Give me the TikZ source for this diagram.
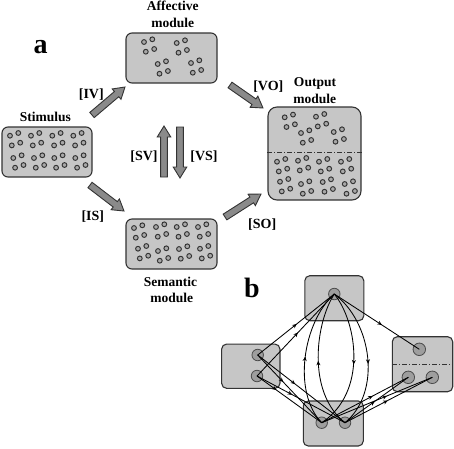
\documentclass[tikz,border=0pt]{standalone}
\usepackage{fontspec}
\setmainfont{Liberation Serif}
\usetikzlibrary{calc,decorations.markings,arrows.meta}
\definecolor{boxgray}{HTML}{C6C6C6}
\definecolor{dotgray}{HTML}{A8A8A8}
\definecolor{nodegray}{HTML}{9E9E9E}
\definecolor{arrgray}{HTML}{8A8A8A}
\newcommand\dotgrp[2]{\foreach \dx/\dy in {0/0, 8.3/-2.7, 1.8/9.7, 10.2/7}{\draw[dot] (#1+\dx,#2+\dy) circle (2.4pt);}}
\newcommand\blockarrow[2]{\path[blockarr] let \p1=($(#2)-(#1)$), \n1={atan2(\y1,\x1)}, \n2={veclen(\x1,\y1)} in [shift={(#1)}, rotate=\n1] (0,3.4) -- (\n2-11,3.4) -- (\n2-11,6.8) -- (\n2,0) -- (\n2-11,-6.8) -- (\n2-11,-3.4) -- (0,-3.4) -- cycle;}
\begin{document}
\begin{tikzpicture}[x=1pt,y=-1pt,
  modbox/.style={draw=black!80, fill=boxgray, line width=1.1pt, rounded corners=6pt, inner sep=0pt},
  dot/.style={draw=black!80, fill=dotgray, line width=0.95pt},
  bnode/.style={circle, draw=black!70, fill=nodegray, line width=0.8pt, minimum size=11.5pt, inner sep=0pt},
  blockarr/.style={draw=black!80, fill=arrgray, line width=0.9pt, line join=miter},
  lbl/.style={font=\fontsize{13.5}{16}\selectfont\bfseries, anchor=base, inner sep=0pt},
  blbl/.style={font=\fontsize{14}{16}\selectfont\bfseries, anchor=base, inner sep=0pt},
  big/.style={font=\fontsize{28}{30}\selectfont\bfseries, anchor=base, inner sep=0pt},
  link/.style={line width=0.85pt, draw=black},
  midarr/.style={postaction={decorate}, decoration={markings, mark=at position #1 with {\arrow{Stealth[length=4.5pt,width=4pt]}}}},
  midarr/.default=0.5,
  sepline/.style={draw=black!80, line width=0.8pt, dash pattern=on 5pt off 2pt on 1pt off 2pt},
]
\useasboundingbox (0,0) rectangle (454,448);

% ---------- part a ----------
\node[big] (la) at (40.5,53.3) {a};

\node[modbox, minimum width=90pt, minimum height=50pt] (stim) at (47,152) {};
\node[modbox, minimum width=91pt, minimum height=50pt] (aff) at (171.5,58) {};
\node[modbox, minimum width=93pt, minimum height=93pt, rounded corners=9pt] (out) at (314.5,153.5) {};
\node[modbox, minimum width=91pt, minimum height=50pt] (sem) at (171.5,244) {};
\draw[sepline] (out.west |- 0,152.3) -- (out.east |- 0,152.3);

\node[lbl] (taff1) at (172.8,10.5) {Affective};
\node[lbl] (taff2) at (172.8,27) {module};
\node[lbl] (tstim) at (45.3,121.5) {Stimulus};
\node[lbl] (tout1) at (315,86) {Output};
\node[lbl] (tout2) at (314.7,103.3) {module};
\node[lbl] (tsem1) at (170.5,286) {Semantic};
\node[lbl] (tsem2) at (171.7,302) {module};

% dots
\foreach \x/\y in {10/135.7, 31/135.7, 52.3/135.7, 73.3/135.7, 13.3/158, 34/158, 54.3/158, 75.3/158}{\dotgrp{\x}{\y}}
\foreach \x/\y in {144/42, 176.7/43, 157.7/64, 191/63}{\dotgrp{\x}{\y}}
\foreach \x/\y in {134/228, 156/227, 176.7/227, 198/227, 138/248.7, 158/251, 179/249, 200/248.7}{\dotgrp{\x}{\y}}
\foreach \x/\y in {284.7/117.3, 316/116.7, 301/133, 333.7/132, 277/161.7, 298/160.7, 319/161.7, 341/161.7, 280/181.7, 301/184, 322.7/182, 344.7/184}{\dotgrp{\x}{\y}}

% block arrows
\coordinate (iv1) at (92,115);  \coordinate (iv2) at (125,87);
\coordinate (vo1) at (230,85);  \coordinate (vo2) at (263,108);
\coordinate (is1) at (90,185);  \coordinate (is2) at (124,211);
\coordinate (so1) at (225,217); \coordinate (so2) at (261,194);
\coordinate (sv1) at (164,177); \coordinate (sv2) at (164,126);
\coordinate (vs1) at (180,127); \coordinate (vs2) at (180,178);
\blockarrow{iv1}{iv2}
\blockarrow{vo1}{vo2}
\blockarrow{is1}{is2}
\blockarrow{so1}{so2}
\blockarrow{sv1}{sv2}
\blockarrow{vs1}{vs2}

\node[blbl] (liv) at (91.3,98.5) {[IV]};
\node[blbl] (lvo) at (268.3,90) {[VO]};
\node[blbl] (lsv) at (144,160.5) {[SV]};
\node[blbl] (lvs) at (204,160.5) {[VS]};
\node[blbl] (lis) at (92.8,220) {[IS]};
\node[blbl] (lso) at (262.2,228.3) {[SO]};

% ---------- part b ----------
\node[big] (lb) at (252,297.3) {b};

\node[modbox, rounded corners=5pt, minimum width=59pt, minimum height=45pt] (btop) at (334.3,298.2) {};
\node[modbox, rounded corners=5pt, minimum width=58.3pt, minimum height=44.3pt] (bleft) at (250.8,366.2) {};
\node[modbox, rounded corners=5pt, minimum width=60.4pt, minimum height=55pt] (bright) at (422.5,364.2) {};
\node[modbox, rounded corners=5pt, minimum width=60pt, minimum height=45pt] (bbot) at (333.3,423.5) {};
\draw[sepline] (bright.west |- 0,364.3) -- (bright.east |- 0,364.3);

\node[bnode] (V) at (334.3,294) {};
\node[bnode] (L1) at (257.7,355) {};
\node[bnode] (L2) at (257,376) {};
\node[bnode, minimum size=12.5pt] (R1) at (419.3,349.3) {};
\node[bnode, minimum size=12.5pt] (R2) at (408.3,377.3) {};
\node[bnode, minimum size=12.5pt] (R3) at (432.3,377.3) {};
\node[bnode] (S1) at (321.7,422.7) {};
\node[bnode] (S2) at (345,422.7) {};

\draw[link, midarr=0.51] (L1.center) -- (V.center);
\draw[link, midarr=0.53] (L2.center) -- (V.center);
\draw[link, midarr=0.56] (V.center) -- (R1.center);
\draw[link, midarr=0.4] (L1.center) -- (S1.center);
\draw[link, midarr=0.43] (L1.center) -- (S2.center);
\draw[link, midarr=0.3] (L2.center) -- (S1.center);
\draw[link, midarr=0.4] (L2.center) -- (S2.center);
\draw[link, midarr=0.59] (S1.center) -- (R2.center);
\draw[link, midarr=0.59] (S1.center) -- (R3.center);
\draw[link, midarr=0.47] (S2.center) -- (R2.center);
\draw[link, midarr=0.49] (S2.center) -- (R3.center);
\draw[link, midarr=0.5] (S1.center) .. controls (292,392) and (303,322) .. (V.center);
\draw[link, midarr=0.5] (S2.center) .. controls (306,392) and (316,322) .. (V.center);
\draw[link, midarr=0.52] (V.center) .. controls (357,322) and (368,392) .. (S1.center);
\draw[link, midarr=0.55] (V.center) .. controls (372,322) and (382,392) .. (S2.center);
\end{tikzpicture}
\end{document}
